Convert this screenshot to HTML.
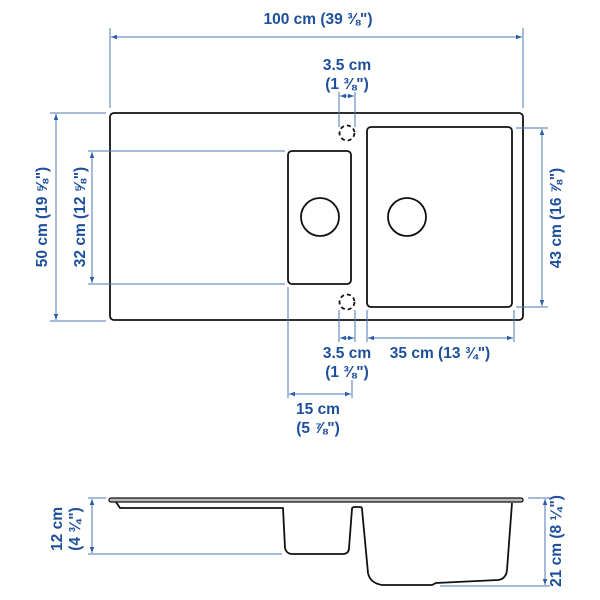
<!DOCTYPE html>
<html><head><meta charset="utf-8"><style>
html,body{margin:0;padding:0;background:#fff;}
svg{display:block;}
text{font-family:"Liberation Sans","DejaVu Sans",sans-serif;font-weight:bold;fill:#1d4f9c;font-size:15.5px;}
.d{stroke:#4a78b5;stroke-width:1;fill:none;}
.k{stroke:#111;stroke-width:1.8;fill:none;}
</style></head><body>
<svg width="600" height="600" viewBox="0 0 600 600" xmlns="http://www.w3.org/2000/svg">
<defs>
<marker id="a" viewBox="0 0 8 8" refX="8" refY="4" markerWidth="6" markerHeight="6" orient="auto-start-reverse"><path d="M0,1 L8,4 L0,7 z" fill="#2a5ea8"/></marker>
</defs>
<rect x="110" y="113" width="413" height="207" rx="4" class="k"/>
<rect x="288" y="151" width="63" height="133" rx="4" class="k"/>
<rect x="367" y="127" width="145" height="180" rx="4" class="k"/>
<ellipse cx="320" cy="217" rx="19" ry="19" class="k"/>
<ellipse cx="407" cy="217" rx="19" ry="19" class="k"/>
<circle cx="347" cy="133" r="7.5" class="k" stroke-dasharray="4 3"/>
<circle cx="347" cy="302" r="7.5" class="k" stroke-dasharray="4 3"/>

<line x1="110" y1="28" x2="110" y2="108" class="d"/>
<line x1="523" y1="28" x2="523" y2="108" class="d"/>
<line x1="111" y1="37" x2="522" y2="37" class="d" marker-start="url(#a)" marker-end="url(#a)"/>
<text x="318" y="24" text-anchor="middle">100 cm (39 ⅜")</text>
<line x1="339" y1="92" x2="339" y2="127" class="d"/>
<line x1="355" y1="92" x2="355" y2="127" class="d"/>
<line x1="340" y1="96" x2="354" y2="96" class="d" marker-start="url(#a)" marker-end="url(#a)"/>
<text x="347" y="70" text-anchor="middle">3.5 cm</text>
<text x="347" y="89" text-anchor="middle">(1 ⅜")</text>
<line x1="50" y1="113" x2="106" y2="113" class="d"/>
<line x1="50" y1="321" x2="106" y2="321" class="d"/>
<line x1="56" y1="114" x2="56" y2="320" class="d" marker-start="url(#a)" marker-end="url(#a)"/>
<text transform="translate(47,217) rotate(-90)" text-anchor="middle">50 cm (19 ⅝")</text>
<line x1="88" y1="151" x2="285" y2="151" class="d"/>
<line x1="88" y1="284" x2="285" y2="284" class="d"/>
<line x1="92" y1="152" x2="92" y2="283" class="d" marker-start="url(#a)" marker-end="url(#a)"/>
<text transform="translate(85,217) rotate(-90)" text-anchor="middle">32 cm (12 ⅝")</text>
<line x1="516" y1="128" x2="548" y2="128" class="d"/>
<line x1="516" y1="307" x2="548" y2="307" class="d"/>
<line x1="542" y1="129" x2="542" y2="306" class="d" marker-start="url(#a)" marker-end="url(#a)"/>
<text transform="translate(561,218) rotate(-90)" text-anchor="middle">43 cm (16 ⅞")</text>
<line x1="288" y1="287" x2="288" y2="398" class="d"/>
<line x1="352" y1="380" x2="352" y2="398" class="d"/>
<line x1="289" y1="394" x2="351" y2="394" class="d" marker-start="url(#a)" marker-end="url(#a)"/>
<text x="318" y="414" text-anchor="middle">15 cm</text>
<text x="318" y="433" text-anchor="middle">(5 ⅞")</text>
<line x1="339" y1="310" x2="339" y2="342" class="d"/>
<line x1="355" y1="310" x2="355" y2="342" class="d"/>
<line x1="340" y1="338" x2="354" y2="338" class="d" marker-start="url(#a)" marker-end="url(#a)"/>
<text x="347" y="358" text-anchor="middle">3.5 cm</text>
<text x="347" y="377" text-anchor="middle">(1 ⅜")</text>
<line x1="367" y1="310" x2="367" y2="342" class="d"/>
<line x1="514" y1="310" x2="514" y2="342" class="d"/>
<line x1="368" y1="338" x2="513" y2="338" class="d" marker-start="url(#a)" marker-end="url(#a)"/>
<text x="440" y="358" text-anchor="middle">35 cm (13 ¾")</text>

<rect x="109" y="498" width="414" height="4" rx="2" fill="#bbb" stroke="#111" stroke-width="1.3"/>
<path class="k" d="M116,502 L120,508 L283,508 L285,548 Q286,553 291,554 L344,554 Q349,553 349,548 L352,509 Q352,507 355,507 L360,507 Q362,507 362,509 L368,573 Q370,583 382,585 L432,585 L436,583 L498,580 Q506,579 507,570 L512,503"/>
<line x1="88" y1="498" x2="106" y2="498" class="d"/>
<line x1="88" y1="554" x2="282" y2="554" class="d"/>
<line x1="92" y1="499" x2="92" y2="553" class="d" marker-start="url(#a)" marker-end="url(#a)"/>
<text transform="translate(62,529) rotate(-90)" text-anchor="middle">12 cm</text>
<text transform="translate(80,529) rotate(-90)" text-anchor="middle">(4 ¾")</text>
<line x1="528" y1="498" x2="550" y2="498" class="d"/>
<line x1="440" y1="586" x2="550" y2="586" class="d"/>
<line x1="545" y1="499" x2="545" y2="585" class="d" marker-start="url(#a)" marker-end="url(#a)"/>
<text transform="translate(561,541) rotate(-90)" text-anchor="middle">21 cm (8 ¼")</text>
</svg>
</body></html>
